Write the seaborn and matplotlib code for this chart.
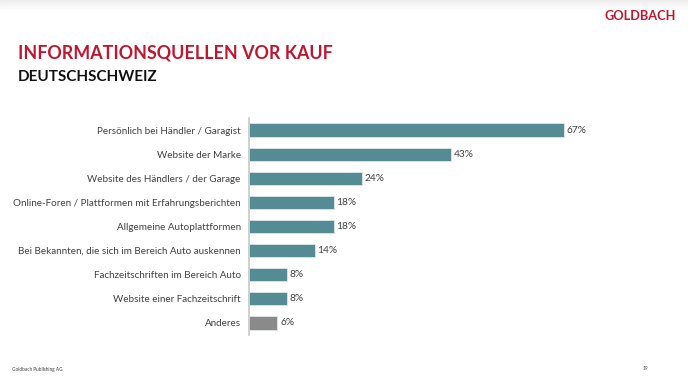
import matplotlib
matplotlib.use("Agg")
import matplotlib.pyplot as plt
import seaborn as sns
import pandas as pd

# Informationsquellen vor Kauf - Deutschschweiz
categories = [
    "Persönlich bei Händler / Garagist",
    "Website der Marke",
    "Website des Händlers / der Garage",
    "Online-Foren / Plattformen mit Erfahrungsberichten",
    "Allgemeine Autoplattformen",
    "Bei Bekannten, die sich im Bereich Auto auskennen",
    "Fachzeitschriften im Bereich Auto",
    "Website einer Fachzeitschrift",
    "Anderes",
]
values = [67, 43, 24, 18, 18, 14, 8, 8, 6]
groups = ["main"] * 8 + ["other"]

df = pd.DataFrame({"source": categories, "share": values, "group": groups})

sns.set_theme(style="white")
plt.rcParams["font.family"] = ["Lato", "DejaVu Sans"]

fig = plt.figure(figsize=(6.88, 3.9), dpi=100)
ax = fig.add_axes([249 / 688, 1 - 335 / 390, 376 / 688, 217 / 390])

sns.barplot(data=df, y="source", x="share", hue="group",
            palette={"main": "#558B95", "other": "#8A8A8A"}, saturation=1,
            dodge=False, width=0.55, legend=False, ax=ax,
            edgecolor="#DCE8EA", linewidth=0.6)

for i, v in enumerate(values):
    ax.text(v + 0.6, i, f"{v}%", va="center", ha="left", fontsize=7.3, color="#404040")

ax.set_xlim(0, 80)
ax.set_ylim(8.5, -0.5)
ax.set_xlabel("")
ax.set_ylabel("")
ax.set_xticks([])
ax.tick_params(axis="y", length=0, pad=6, labelsize=7.1, labelcolor="#404040")
for s in ["top", "right", "bottom"]:
    ax.spines[s].set_visible(False)
ax.spines["left"].set_color("#C8C8C8")
ax.spines["left"].set_linewidth(1.2)

# header band
for k in range(8):
    fig.patches.append(plt.Rectangle((0, 1 - (k + 1) / 390), 1, 1 / 390,
                                     transform=fig.transFigure,
                                     color=(0.93 + k * 0.008,) * 3, zorder=0))

fig.text(676 / 688, 1 - 16 / 390, "GOLDBACH", ha="right", va="center",
         fontsize=9.2, fontweight="bold", color="#C0172F")
fig.text(18 / 688, 1 - 53 / 390, "INFORMATIONSQUELLEN VOR KAUF", ha="left", va="center",
         fontsize=12.9, fontweight="bold", color="#C0172F")
fig.text(18 / 688, 1 - 77 / 390, "DEUTSCHSCHWEIZ", ha="left", va="center",
         fontsize=11, fontweight="bold", color="#111111")
fig.text(12 / 688, 1 - 369 / 390, "Goldbach Publishing AG", ha="left", va="center",
         fontsize=3.4, color="#404040")
fig.text(645 / 688, 1 - 369 / 390, "19", ha="center", va="center",
         fontsize=3.4, color="#404040")

fig.savefig("out.png", dpi=100)
